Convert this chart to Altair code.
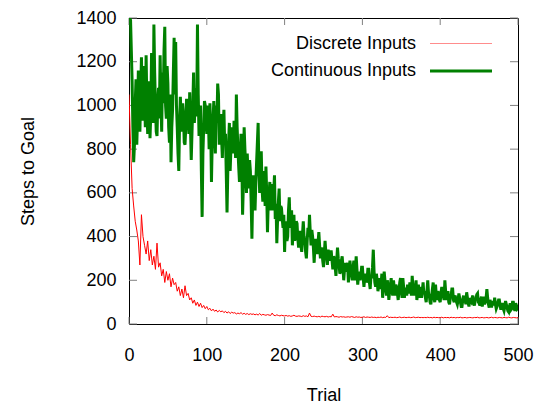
import altair as alt
import pandas as pd

# ---------------- data ----------------
trials_continuous = list(range(0, 501))
continuous = [
    1400, 1400, 1390, 1250, 1110, 900, 740, 820, 1010, 1120, 820, 950, 1160, 1000, 880, 1050, 1220, 1000, 930, 1180,
    1050, 900, 1230, 1000, 870, 960, 1110, 850, 960, 1240, 1180, 920, 1370, 1150, 1000, 880, 860, 1020, 1080, 940,
    1230, 1020, 880, 1150, 1010, 1250, 1360, 1000, 940, 1180, 1100, 900, 830, 1050, 740, 900, 980, 1150, 1310, 1050,
    1290, 1000, 900, 780, 700, 920, 1040, 950, 880, 1010, 960, 830, 820, 900, 1030, 980, 950, 870, 1060, 900,
    750, 880, 1000, 1150, 920, 1010, 1080, 950, 1370, 1050, 860, 920, 1000, 700, 490, 780, 900, 1020, 1000, 930,
    870, 1000, 960, 800, 1010, 900, 650, 840, 930, 1020, 880, 780, 1000, 920, 1100, 1050, 820, 900, 960, 850,
    760, 900, 980, 820, 870, 690, 510, 700, 830, 920, 700, 800, 900, 850, 780, 930, 880, 760, 1050, 900,
    800, 720, 650, 780, 870, 760, 500, 640, 900, 800, 720, 600, 780, 680, 620, 750, 700, 560, 390, 600,
    680, 600, 520, 650, 740, 830, 920, 700, 600, 680, 790, 620, 560, 700, 650, 540, 720, 600, 420, 560,
    590, 650, 520, 600, 640, 520, 600, 680, 480, 550, 370, 480, 560, 620, 470, 540, 530, 480, 440, 500,
    330, 450, 470, 380, 400, 520, 580, 460, 440, 520, 360, 430, 500, 380, 410, 470, 460, 390, 350, 420,
    420, 360, 330, 410, 470, 400, 380, 330, 300, 380, 440, 400, 500, 420, 360, 430, 400, 350, 280, 360,
    390, 340, 320, 370, 420, 360, 300, 340, 350, 290, 260, 320, 380, 330, 310, 270, 340, 300, 290, 330,
    330, 290, 250, 310, 300, 260, 220, 290, 350, 300, 270, 230, 240, 290, 310, 260, 200, 250, 280, 240,
    250, 280, 190, 240, 290, 250, 230, 200, 260, 290, 200, 240, 310, 250, 180, 220, 240, 200, 220, 260,
    260, 210, 170, 220, 230, 190, 200, 250, 250, 190, 160, 220, 210, 260, 340, 240, 190, 170, 230, 200,
    150, 180, 210, 160, 180, 230, 120, 170, 240, 200, 160, 130, 200, 170, 110, 150, 180, 210, 150, 130,
    200, 160, 130, 180, 170, 140, 110, 150, 190, 210, 150, 120, 210, 170, 120, 160, 160, 130, 180, 150,
    140, 190, 170, 130, 220, 170, 130, 150, 160, 200, 110, 140, 180, 120, 140, 170, 120, 150, 190, 140,
    150, 120, 100, 150, 200, 140, 130, 100, 90, 130, 160, 190, 120, 100, 180, 130, 110, 150, 140, 110,
    100, 140, 170, 120, 130, 110, 200, 150, 110, 140, 150, 100, 90, 120, 130, 160, 160, 110, 100, 130,
    120, 100, 90, 110, 140, 120, 100, 80, 80, 110, 130, 100, 110, 90, 145, 120, 95, 80, 120, 105,
    100, 120, 130, 95, 85, 110, 115, 135, 140, 100, 95, 85, 110, 125, 80, 100, 125, 90, 100, 120,
    160, 120, 90, 75, 110, 95, 75, 100, 100, 85, 120, 90, 70, 80, 95, 110, 110, 85, 65, 90,
    90, 70, 60, 80, 105, 90, 75, 60, 55, 80, 95, 65, 70, 100, 100, 75, 60, 95, 85, 70,
    75,
]

trials_discrete = list(range(0, 501, 2))
discrete = [
    1050, 820, 620, 540, 470, 430, 380, 270, 500, 400,
    360, 320, 380, 290, 340, 270, 310, 250, 370, 260,
    280, 220, 250, 190, 240, 200, 230, 170, 210, 180,
    190, 150, 170, 130, 160, 120, 175, 130, 140, 110,
    120, 95, 110, 85, 100, 80, 95, 75, 85, 70,
    80, 65, 72, 60, 68, 58, 64, 55, 62, 56,
    60, 52, 58, 50, 56, 48, 54, 50, 52, 46,
    50, 47, 52, 45, 49, 44, 48, 43, 47, 44,
    46, 42, 45, 41, 48, 40, 44, 42, 40, 43,
    41, 39, 50, 40, 38, 42, 39, 37, 40, 38,
    37, 39, 36, 38, 35, 37, 40, 36, 35, 37,
    36, 34, 38, 35, 37, 33, 50, 35, 34, 36,
    34, 33, 35, 32, 36, 34, 33, 35, 32, 34,
    33, 45, 32, 34, 33, 31, 34, 32, 33, 31,
    32, 33, 31, 34, 32, 30, 33, 31, 32, 30,
    31, 33, 30, 32, 31, 30, 32, 30, 31, 29,
    31, 30, 32, 29, 31, 30, 38, 29, 31, 30,
    30, 31, 29, 30, 32, 29, 30, 31, 29, 30,
    31, 29, 30, 32, 29, 30, 31, 29, 30, 29,
    30, 29, 31, 29, 30, 28, 31, 29, 30, 29,
    29, 31, 28, 30, 29, 30, 28, 31, 29, 30,
    28, 30, 29, 31, 28, 29, 30, 28, 29, 30,
    29, 28, 30, 29, 31, 28, 29, 30, 28, 29,
    30, 28, 29, 31, 28, 30, 29, 28, 30, 29,
    28, 30, 29, 28, 31, 29, 28, 30, 29, 28,
    29,
]

x_ticks = [0, 100, 200, 300, 400, 500]
y_ticks = [0, 200, 400, 600, 800, 1000, 1200, 1400]
legend_labels = ["Discrete Inputs", "Continuous Inputs"]
legend_colors = ["#ff0000", "#008000"]
legend_widths = [1, 3]

# ---------------- chart ----------------
W, H = 389, 306
FONT = "Liberation Sans"

df_c = pd.DataFrame({"Trial": trials_continuous, "Steps": continuous})
df_d = pd.DataFrame({"Trial": trials_discrete, "Steps": discrete})

xs = alt.Scale(domain=[0, 500], nice=False, zero=False)
ys = alt.Scale(domain=[0, 1400], nice=False)

x_axis = alt.Axis(values=x_ticks, format="d", title="Trial", labelPadding=22,
                  titlePadding=22, labelFlush=False)
y_axis = alt.Axis(values=y_ticks, format="d", title="Steps to Goal", labelPadding=13,
                  titlePadding=38, labelFlush=False)

red = alt.Chart(df_d).mark_line(color=legend_colors[0], strokeWidth=1, clip=True).encode(
    x=alt.X("Trial:Q", scale=xs, axis=x_axis),
    y=alt.Y("Steps:Q", scale=ys, axis=y_axis),
)
green = alt.Chart(df_c).mark_line(color=legend_colors[1], strokeWidth=3, clip=True).encode(
    x=alt.X("Trial:Q", scale=xs, axis=x_axis),
    y=alt.Y("Steps:Q", scale=ys, axis=y_axis),
)

xt = alt.Chart(pd.DataFrame({"t": x_ticks}))
yt = alt.Chart(pd.DataFrame({"v": y_ticks}))
TICK = "#808080"
tick_b = xt.mark_rule(color=TICK).encode(
    x=alt.X("t:Q", scale=xs, axis=x_axis), y=alt.value(H), y2=alt.value(H - 7))
tick_t = xt.mark_rule(color=TICK).encode(
    x=alt.X("t:Q", scale=xs, axis=x_axis), y=alt.value(0), y2=alt.value(7))
tick_l = yt.mark_rule(color=TICK).encode(
    y=alt.Y("v:Q", scale=ys, axis=y_axis), x=alt.value(0), x2=alt.value(8))
tick_r = yt.mark_rule(color=TICK).encode(
    y=alt.Y("v:Q", scale=ys, axis=y_axis), x=alt.value(W - 8), x2=alt.value(W))

legend_layers = []
row_y = [25.5, 53]
for lab, col, sw, yy in zip(legend_labels, legend_colors, legend_widths, row_y):
    d = alt.Chart(pd.DataFrame({"label": [lab]}))
    legend_layers.append(
        d.mark_text(align="right", baseline="middle", fontSize=18, font=FONT, color="#000000").encode(
            text="label:N", x=alt.value(287), y=alt.value(yy))
    )
    legend_layers.append(
        d.mark_rule(color=col, strokeWidth=sw, opacity=(0.45 if sw == 1 else 1)).encode(
            x=alt.value(301), x2=alt.value(363), y=alt.value(yy))
    )

chart = alt.layer(
    tick_b, tick_t, tick_l, tick_r, red, green, *legend_layers
).properties(
    width=W, height=H,
    padding={"left": 121, "top": 10, "right": 17, "bottom": 80},
    autosize=alt.AutoSizeParams(type="none"),
).configure(
    background="white"
).configure_view(
    stroke="#000000", strokeWidth=1
).configure_axis(
    ticks=False, tickSize=0, domain=False, grid=False,
    labelFont=FONT, labelFontSize=18, labelColor="#000000",
    titleFont=FONT, titleFontSize=18, titleFontWeight="normal", titleColor="#000000",
)

chart.save("out.html", embed_options={"renderer": "svg", "actions": False})
